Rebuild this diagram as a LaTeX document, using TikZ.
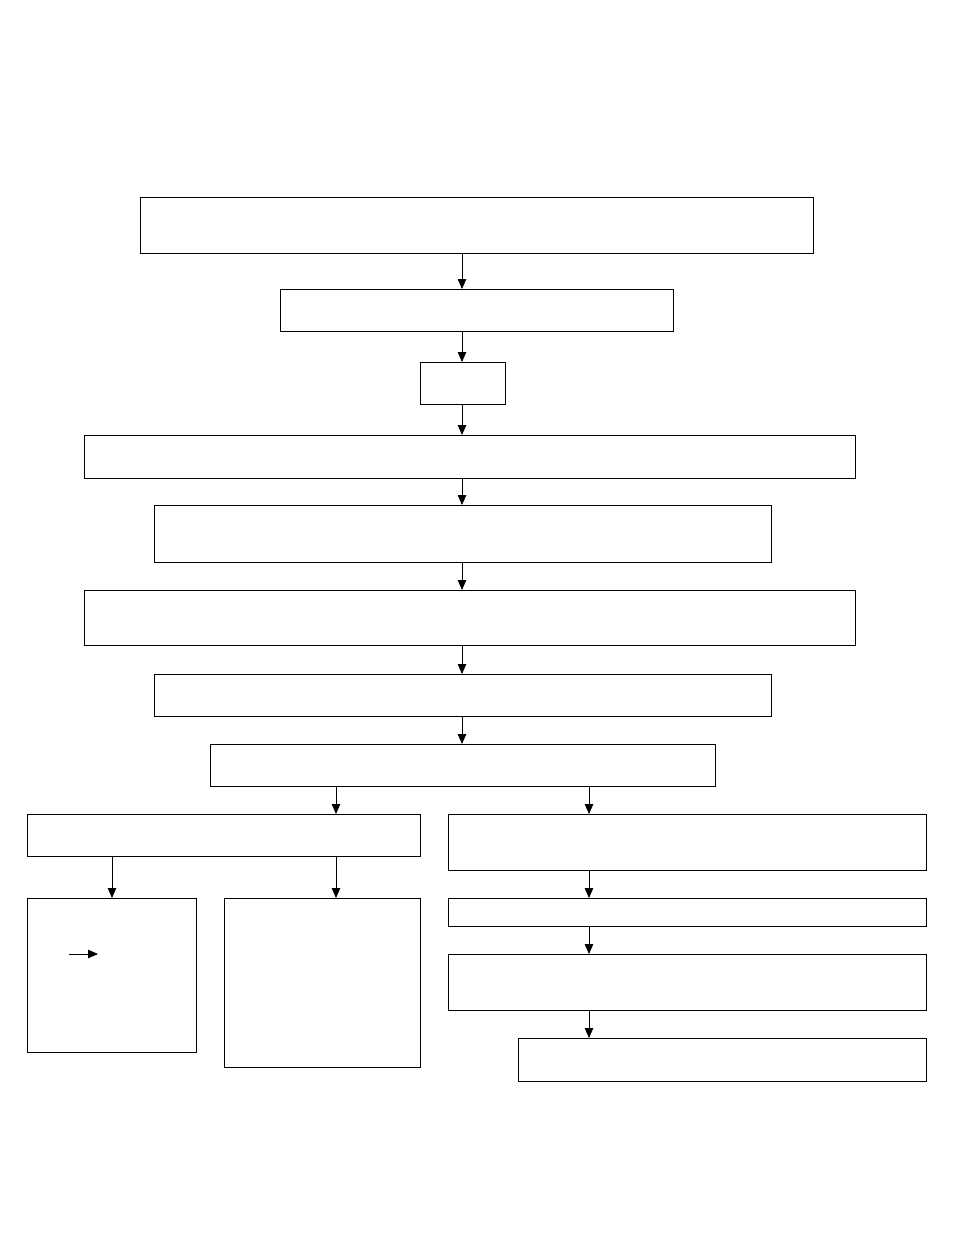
\documentclass[tikz,border=0pt]{standalone}
\usetikzlibrary{arrows.meta}
\begin{document}
\begin{tikzpicture}[x=1pt,y=-1pt,
  box/.style={draw=black,line width=1pt,fill=white,inner sep=0pt,outer sep=0pt,anchor=north west},
  arr/.style={draw=black,line width=0.8pt,-{Triangle[length=10pt,width=8.5pt]}}]
\useasboundingbox[fill=white] (0,0) rectangle (954,1235);
\newcommand{\bx}[5]{\node[box,minimum width=#4pt,minimum height=#5pt] (#1) at (#2,#3) {};}
\bx{b1}{140}{197}{673}{56}
\bx{b2}{280}{289}{393}{42}
\bx{b3}{420}{362}{85}{42}
\bx{b4}{84}{435}{771}{43}
\bx{b5}{154}{505}{617}{57}
\bx{b6}{84}{590}{771}{55}
\bx{b7}{154}{674}{617}{42}
\bx{b8}{210}{744}{505}{42}
\bx{b9}{27}{814}{393}{42}
\bx{b10}{448}{814}{478}{56}
\bx{b11}{27}{898}{169}{154}
\bx{b12}{224}{898}{196}{169}
\bx{b13}{448}{898}{478}{28}
\bx{b14}{448}{954}{478}{56}
\bx{b15}{518}{1038}{408}{43}
\coordinate (xa) at (462,0);
\coordinate (xb) at (336,0);
\coordinate (xc) at (589,0);
\coordinate (xd) at (112,0);
\coordinate (sa1) at (69,954);
\coordinate (sa2) at (98,954);
\draw[arr] (xa |- b1.south) -- (xa |- b2.north);
\draw[arr] (xa |- b2.south) -- (xa |- b3.north);
\draw[arr] (xa |- b3.south) -- (xa |- b4.north);
\draw[arr] (xa |- b4.south) -- (xa |- b5.north);
\draw[arr] (xa |- b5.south) -- (xa |- b6.north);
\draw[arr] (xa |- b6.south) -- (xa |- b7.north);
\draw[arr] (xa |- b7.south) -- (xa |- b8.north);
\draw[arr] (xb |- b8.south) -- (xb |- b9.north);
\draw[arr] (xc |- b8.south) -- (xc |- b10.north);
\draw[arr] (xd |- b9.south) -- (xd |- b11.north);
\draw[arr] (xb |- b9.south) -- (xb |- b12.north);
\draw[arr] (xc |- b10.south) -- (xc |- b13.north);
\draw[arr] (xc |- b13.south) -- (xc |- b14.north);
\draw[arr] (xc |- b14.south) -- (xc |- b15.north);
\draw[arr] (sa1) -- (sa2);
\end{tikzpicture}
\end{document}
